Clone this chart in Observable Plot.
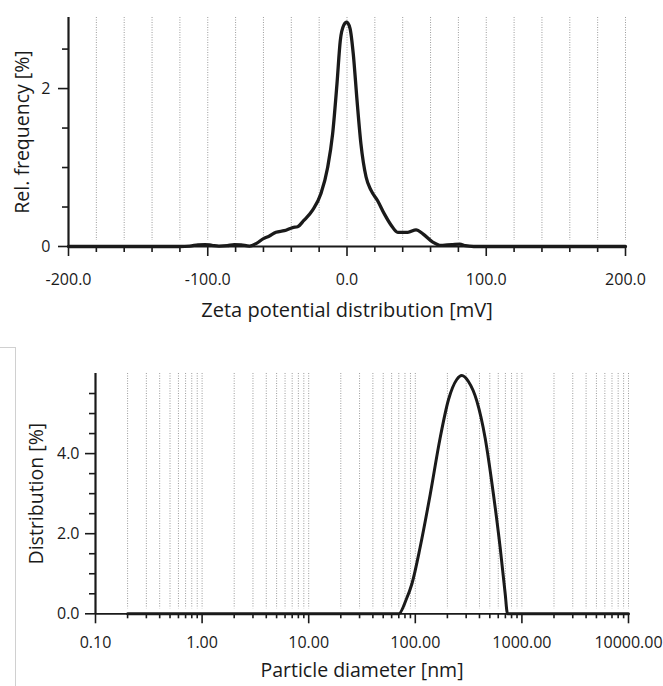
<!DOCTYPE html>
<html><head><meta charset="utf-8">
<script src="https://cdn.jsdelivr.net/npm/d3@7"></script>
<script src="https://cdn.jsdelivr.net/npm/@observablehq/plot@0.6"></script>
<style>
html,body{margin:0;padding:0;background:#fff;}
#wrap{position:relative;width:663px;height:686px;overflow:hidden;background:#fff;}
#wrap svg{display:block;}
.bracket{position:absolute;left:-2px;top:347px;width:17px;height:360px;border-top:1px solid #d0d0d0;border-right:1px solid #d0d0d0;}
</style></head><body>
<div id="wrap"><div id="topchart"></div><div id="bottomchart"></div><div class="bracket"></div></div>
<script>
// ---- Zeta potential distribution ----
const zetaMV   = [-200, -120, -113, -107, -102, -97, -92, -86, -81, -76, -70, -65, -60, -56, -51, -45, -39, -35.5, -31, -24.7, -18.7, -13.9, -10.3, -7.2, -4.8, -2.4, -0.2, 2.2, 4.5, 7.2, 10, 13.7, 17.3, 22, 26.9, 31.7, 36.5, 43.7, 49.6, 54.5, 61.6, 67.6, 72, 76, 81, 85, 91, 200];
const zetaFreq = [0, 0, 0.005, 0.02, 0.025, 0.015, 0.005, 0.01, 0.025, 0.02, 0.005, 0.04, 0.1, 0.13, 0.18, 0.2, 0.24, 0.25, 0.33, 0.46, 0.67, 1.0, 1.43, 2.06, 2.61, 2.80, 2.84, 2.76, 2.44, 1.85, 1.30, 0.88, 0.71, 0.58, 0.41, 0.27, 0.18, 0.18, 0.21, 0.16, 0.055, 0.013, 0.02, 0.025, 0.03, 0.01, 0, 0];
const zetaMajorTicks = [-200, -100, 0, 100, 200];
const zetaMinorTicks = [-180, -160, -140, -120, -80, -60, -40, -20, 20, 40, 60, 80, 120, 140, 160, 180];
const zetaGrid = [-180, -160, -140, -120, -100, -80, -60, -40, -20, 0, 20, 40, 60, 80, 100, 120, 140, 160, 180, 200];
const zetaYMajor = [0, 2];
const zetaYMinor = [0.5, 1, 1.5, 2.5];
const zetaXTitle = "Zeta potential distribution [mV]";
const zetaYTitle = "Rel. frequency [%]";

// ---- Particle size distribution ----
const sizeNM   = [0.2, 70, 82, 93, 111, 138, 171, 205, 245, 273, 315, 378, 452, 541, 625, 697, 733, 10000];
const sizeDist = [0, 0, 0.35, 0.75, 1.66, 2.98, 4.39, 5.35, 5.85, 5.95, 5.80, 5.31, 4.39, 2.98, 1.66, 0.5, 0, 0];
const sizeMajorTicks = [0.1, 1, 10, 100, 1000, 10000];
const sizeMinorTicks = [0.2,0.3,0.4,0.5,0.6,0.7,0.8,0.9, 2,3,4,5,6,7,8,9, 20,30,40,50,60,70,80,90, 200,300,400,500,600,700,800,900, 2000,3000,4000,5000,6000,7000,8000,9000];
const sizeGrid = [0.2,0.3,0.4,0.5,0.6,0.7,0.8,0.9,1, 2,3,4,5,6,7,8,9,10, 20,30,40,50,60,70,80,90,100, 200,300,400,500,600,700,800,900,1000, 2000,3000,4000,5000,6000,7000,8000,9000,10000];
const sizeYMajor = [0, 2, 4];
const sizeYMinor = [0.5, 1, 1.5, 2.5, 3, 3.5, 4.5, 5, 5.5];
const sizeXTitle = "Particle diameter [nm]";
const sizeYTitle = "Distribution [%]";

const ink = "#1a1a1a";
const gridStyle = {stroke: "#9c9c9c", strokeDasharray: "1,1.5", strokeWidth: 1};
const baseStyle = {fontFamily: "'Open Sans', sans-serif", fontSize: "16px", color: ink, background: "#fff"};

const zeta = zetaMV.map((v, i) => ({mv: v, f: zetaFreq[i]}));
const topPlot = Plot.plot({
  width: 663, height: 330,
  marginLeft: 68, marginRight: 38, marginTop: 17, marginBottom: 84,
  style: baseStyle,
  x: {type: "linear", domain: [-200, 200], label: null},
  y: {domain: [0, 2.9], label: null},
  marks: [
    Plot.ruleX(zetaGrid, {...gridStyle, insetBottom: 6}),
    Plot.axisX(zetaMinorTicks, {tickSize: 6, fill: "none", strokeWidth: 1.6, label: null}),
    Plot.axisX(zetaMajorTicks, {tickSize: 10, tickPadding: 17, strokeWidth: 1.6, tickFormat: d => d.toFixed(1), label: null, fontSize: 16}),
    Plot.axisY(zetaYMinor, {tickSize: 6, fill: "none", strokeWidth: 1.6, label: null}),
    Plot.axisY(zetaYMajor, {tickSize: 10, tickPadding: 8, strokeWidth: 1.6, tickFormat: d => String(d), label: null, fontSize: 16}),
    Plot.ruleY([0], {strokeWidth: 2.2, stroke: ink}),
    Plot.ruleX([-200], {strokeWidth: 2.2, stroke: ink}),
    Plot.line(zeta, {x: "mv", y: "f", stroke: ink, strokeWidth: 3.3, curve: "monotone-x", strokeLinejoin: "round"}),
    Plot.text([zetaXTitle], {frameAnchor: "bottom", textAnchor: "middle", lineAnchor: "middle", dy: 64.5, fontSize: 20, fill: ink}),
    Plot.text([zetaYTitle], {frameAnchor: "left", textAnchor: "middle", lineAnchor: "middle", rotate: -90, dx: -46, fontSize: 19.5, fill: ink})
  ]
});
document.getElementById("topchart").append(topPlot);

const size = sizeNM.map((v, i) => ({d: v, p: sizeDist[i]}));
const bottomPlot = Plot.plot({
  width: 663, height: 356,
  marginLeft: 95, marginRight: 35, marginTop: 43, marginBottom: 72.7,
  style: baseStyle,
  x: {type: "log", domain: [0.1, 10000], label: null},
  y: {domain: [0, 6], label: null},
  marks: [
    Plot.ruleX(sizeGrid, {...gridStyle, insetBottom: 5}),
    Plot.axisX(sizeMinorTicks, {tickSize: 5, fill: "none", strokeWidth: 1.6, label: null}),
    Plot.axisX(sizeMajorTicks, {tickSize: 10, tickPadding: 13, strokeWidth: 1.6, tickFormat: d => d.toFixed(2), label: null, fontSize: 16}),
    Plot.axisY(sizeYMinor, {tickSize: 6, fill: "none", strokeWidth: 1.6, label: null}),
    Plot.axisY(sizeYMajor, {tickSize: 10, tickPadding: 6, strokeWidth: 1.6, tickFormat: d => d.toFixed(1), label: null, fontSize: 16}),
    Plot.ruleY([0], {strokeWidth: 1.8, stroke: ink}),
    Plot.ruleX([0.1], {strokeWidth: 2.2, stroke: ink}),
    Plot.line(size, {x: "d", y: "p", stroke: ink, strokeWidth: 3, curve: "monotone-x", strokeLinejoin: "round"}),
    Plot.text([sizeXTitle], {frameAnchor: "bottom", textAnchor: "middle", lineAnchor: "middle", dy: 57, fontSize: 19.5, fill: ink}),
    Plot.text([sizeYTitle], {frameAnchor: "left", textAnchor: "middle", lineAnchor: "middle", rotate: -90, dx: -59, fontSize: 19.5, fill: ink})
  ]
});
document.getElementById("bottomchart").append(bottomPlot);
</script>
</body></html>
